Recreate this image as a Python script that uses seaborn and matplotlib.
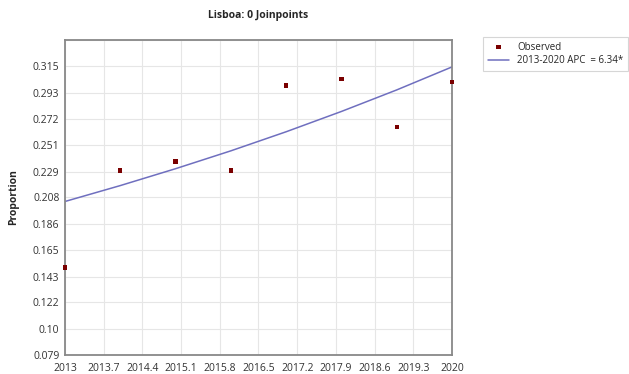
import numpy as np
import pandas as pd
import matplotlib
matplotlib.use("Agg")
import matplotlib.pyplot as plt
import seaborn as sns

years = [2013, 2014, 2015, 2016, 2017, 2018, 2019, 2020]
observed = [0.1505, 0.2299, 0.2372, 0.2298, 0.2994, 0.3046, 0.2653, 0.3022]
# fitted APC model
fitted = [0.2045, 0.2175, 0.2313, 0.2459, 0.2615, 0.2781, 0.2957, 0.3145]

x_ticks = [2013, 2013.7, 2014.4, 2015.1, 2015.8, 2016.5, 2017.2, 2017.9, 2018.6, 2019.3, 2020]
x_labels = ["2013", "2013.7", "2014.4", "2015.1", "2015.8", "2016.5", "2017.2", "2017.9", "2018.6", "2019.3", "2020"]
y_ticks = [0.079, 0.10, 0.122, 0.143, 0.165, 0.186, 0.208, 0.229, 0.251, 0.272, 0.293, 0.315]
y_labels = ["0.079", "0.10", "0.122", "0.143", "0.165", "0.186", "0.208", "0.229", "0.251", "0.272", "0.293", "0.315"]

df = pd.DataFrame({"year": years, "observed": observed, "fitted": fitted})

sns.set_style("whitegrid")
plt.rcParams["font.family"] = ["Open Sans", "DejaVu Sans"]

fig = plt.figure(figsize=(6.29, 3.74), dpi=100)
ax = fig.add_axes([0.1033, 0.0508, 0.6153, 0.8422])

sns.lineplot(df, x="year", y="fitted", color="#6f6fbf", linewidth=1.1,
             label="2013-2020 APC  = 6.34*", ax=ax, zorder=2)
sns.scatterplot(df, x="year", y="observed", marker="s", s=10, color="#7a0000",
                edgecolor="none", label="Observed", ax=ax, zorder=3, clip_on=False)

ax.set_xlim(2013, 2020)
ax.set_ylim(0.079, 0.3365)
ax.set_xticks(x_ticks)
ax.set_xticklabels(x_labels)
ax.set_yticks(y_ticks + [0.3365])
ax.set_yticklabels(y_labels + [""])
ax.tick_params(axis="both", length=0, labelsize=7.5, colors="#333333")
ax.tick_params(axis="x", pad=6)
ax.tick_params(axis="y", pad=4)
ax.grid(True, color="#e6e6e6", linewidth=0.8)
for sp in ax.spines.values():
    sp.set_color("#888888")
    sp.set_linewidth(1.3)

ax.set_xlabel("")
ax.set_ylabel("Proportion", fontsize=7.5, fontweight="bold", labelpad=10)
ax.set_title("Lisboa: 0 Joinpoints", fontsize=7.5, fontweight="bold", pad=16)

handles, labels = ax.get_legend_handles_labels()
order = [labels.index("Observed"), labels.index("2013-2020 APC  = 6.34*")]
leg = ax.legend([handles[i] for i in order], [labels[i] for i in order],
                loc="upper left", bbox_to_anchor=(0.768, 0.902), bbox_transform=fig.transFigure,
                fontsize=7, frameon=True, fancybox=False, edgecolor="#cccccc",
                handlelength=2.2, borderpad=0.5, labelspacing=0.25, borderaxespad=0)
leg.get_frame().set_linewidth(0.8)

plt.savefig("out.png", dpi=100)
